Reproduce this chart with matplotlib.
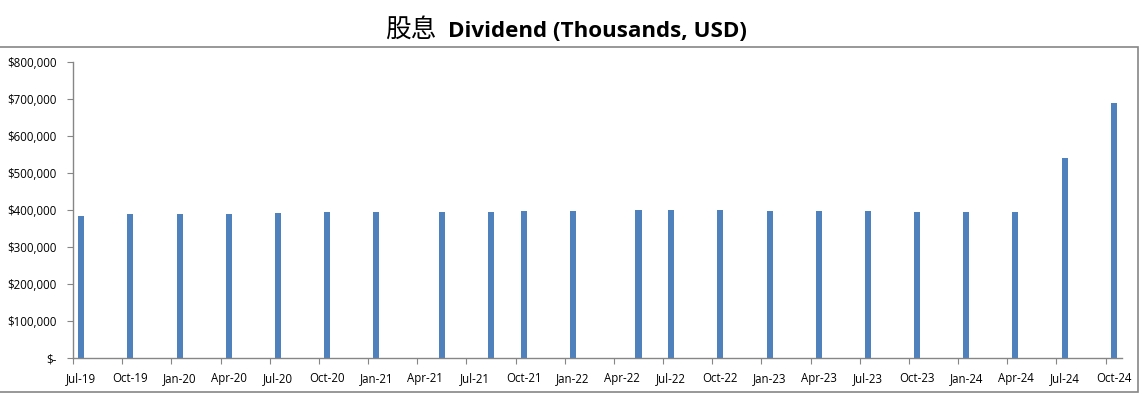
import numpy as np
import pandas as pd
import matplotlib
matplotlib.use('Agg')
import matplotlib.pyplot as plt
from matplotlib.patches import Rectangle

# Dati: mese del pagamento del dividendo e importo (migliaia di USD)
pay_months = ['2019-07', '2019-10', '2020-01', '2020-04', '2020-07', '2020-10',
              '2021-01', '2021-05', '2021-08', '2021-10', '2022-01', '2022-05',
              '2022-07', '2022-10', '2023-01', '2023-04', '2023-07', '2023-10',
              '2024-01', '2024-04', '2024-07', '2024-10']
dividend = [385000, 391000, 391000, 391000, 393000, 395000,
            395000, 395000, 395000, 398000, 398000, 401000,
            401000, 401000, 398000, 398000, 398000, 395000,
            395000, 395000, 541000, 690000]
tick_labels = ['Jul-19', 'Oct-19', 'Jan-20', 'Apr-20', 'Jul-20', 'Oct-20', 'Jan-21',
               'Apr-21', 'Jul-21', 'Oct-21', 'Jan-22', 'Apr-22', 'Jul-22', 'Oct-22',
               'Jan-23', 'Apr-23', 'Jul-23', 'Oct-23', 'Jan-24', 'Apr-24', 'Jul-24',
               'Oct-24']
y_ticks = [0, 100000, 200000, 300000, 400000, 500000, 600000, 700000, 800000]

start = pd.Period('2019-07', freq='M')
n_months = 64  # Jul-19 .. Oct-24

def month_idx(p):
    p = pd.Period(p, freq='M')
    return (p.year - start.year) * 12 + (p.month - start.month)

# ogni mese ha la stessa larghezza (asse date mensile)
x = np.array([month_idx(m) for m in pay_months]) + 0.5
tick_pos = np.array([month_idx(pd.to_datetime(l, format='%b-%y')) for l in tick_labels])

grey = '#868686'
fig = plt.figure(figsize=(11.45, 3.95), dpi=100)
W, H = 1145, 395
ax = fig.add_axes([73 / W, (H - 358.3) / H, (1122 - 73) / W, (358.3 - 62.3) / H])

ax.bar(x, dividend, width=0.37, color='#4F81BD', zorder=2)
ax.set_xlim(0, n_months)
ax.set_ylim(0, 800000)

# tacche ai bordi dei mesi, etichette al centro
ax.set_xticks(tick_pos)
ax.set_xticklabels([])
ax.set_xticks(tick_pos + 0.5, minor=True)
ax.set_xticklabels(tick_labels, minor=True)
ax.tick_params(axis='x', which='major', length=4, color=grey, direction='out')
ax.tick_params(axis='x', which='minor', length=0, pad=10, labelsize=8.3)

ax.set_yticks(y_ticks)
ax.set_yticklabels(['$-' if v == 0 else '${:,.0f}'.format(v) for v in y_ticks])
ax.tick_params(axis='y', length=4, color=grey, direction='out', pad=8, labelsize=8.3)

for lab in ax.get_xticklabels(minor=True) + ax.get_yticklabels():
    lab.set_fontfamily('Open Sans')

for s in ['top', 'right']:
    ax.spines[s].set_visible(False)
for s in ['left', 'bottom']:
    ax.spines[s].set_color(grey)
    ax.spines[s].set_linewidth(1)

# bordo del grafico
fig.patches.append(Rectangle((-2 / W, (H - 391.7) / H), (1137.7 + 2) / W, (391.7 - 46.7) / H,
                             transform=fig.transFigure, fill=False, edgecolor=grey, linewidth=1.2))

# titolo
fig.text(437 / W, (H - 37) / H, '股息', ha='right', va='baseline', fontsize=18.5,
         family=['Noto Sans CJK SC', 'DejaVu Sans'])
fig.text(448 / W, (H - 37) / H, 'Dividend (Thousands, USD)', ha='left', va='baseline',
         fontsize=16.1, fontweight='bold', family=['Open Sans', 'DejaVu Sans'])

fig.savefig('out.png', dpi=100)
